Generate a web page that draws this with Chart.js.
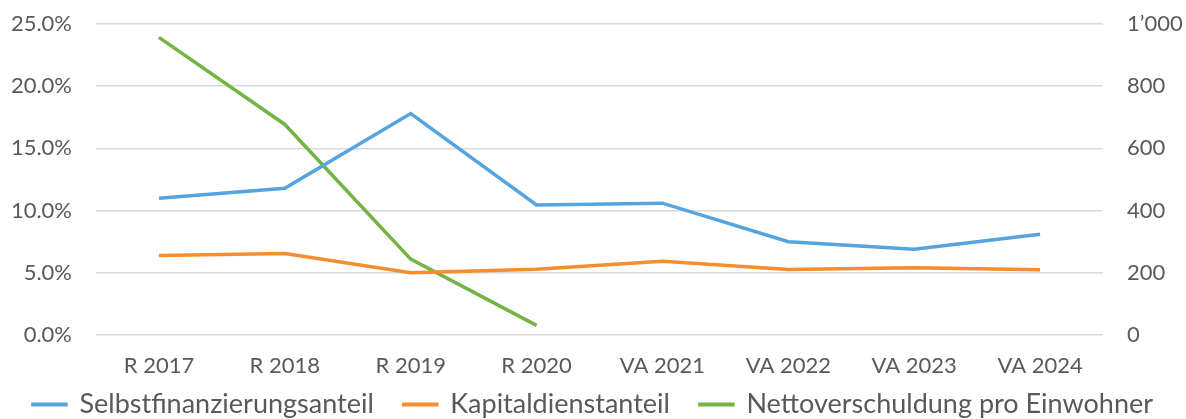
<!DOCTYPE html>
<html>
<head>
<meta charset="utf-8">
<script src="https://cdn.jsdelivr.net/npm/chart.js@4"></script>
<style>
  body { margin: 0; background: #fff; }
  #wrap { width: 1186px; height: 419px; }
</style>
</head>
<body>
<div id="wrap"><canvas id="chart" width="1186" height="419"></canvas></div>
<script>
// Kategorien (Rechnung / Voranschlag)
const labels = ['R 2017', 'R 2018', 'R 2019', 'R 2020', 'VA 2021', 'VA 2022', 'VA 2023', 'VA 2024'];

// Anteile in Prozent (linke Achse)
const selbstfinanzierung = [11.0, 11.8, 17.8, 10.45, 10.6, 7.5, 6.9, 8.1];
const kapitaldienst = [6.4, 6.55, 5.0, 5.28, 5.92, 5.27, 5.41, 5.25];

// Nettoverschuldung pro Einwohner (rechte Achse), nur Rechnungsjahre
const nettoverschuldung = [957, 677, 244, 31, null, null, null, null];

const fontName = 'Lato, "Open Sans", sans-serif';
const textColor = '#595959';
const gridColor = '#d9d9d9';

// Tausendertrennzeichen wie im Original: 1’000
function formatCHF(v) {
    return String(v).replace(/\B(?=(\d{3})+(?!\d))/g, '’');
}

// feste Breite für die y-Achsen, ohne Zusatzabstand oben/unten
function yAchseFix(breite) {
    return function (scale) {
        scale.width = breite;
        scale.paddingTop = 0;
        scale.paddingBottom = 0;
    };
}

// Legende: flacher machen und etwas nach oben schieben,
// damit der Abstand zwischen den Einträgen gross bleiben kann
const legendeAnpassen = {
    id: 'legendeAnpassen',
    beforeUpdate(chart) {
        const legend = chart.legend;
        if (!legend || legend._angepasst) return;
        const originalFit = legend.fit;
        legend.fit = function () {
            originalFit.call(this);
            this.height = 38;
        };
        legend._angepasst = true;
    },
    afterLayout(chart) {
        // nur top verschieben, bottom bleibt (Legende clippt auf ihre Box)
        chart.legend.top -= 20;
    }
};

const ctx = document.getElementById('chart').getContext('2d');

const chart = new Chart(ctx, {
    type: 'line',
    data: {
        labels: labels,
        datasets: [{
            label: 'Selbstfinanzierungsanteil',
            data: selbstfinanzierung,
            borderColor: '#55a3df',
            backgroundColor: '#55a3df',
            borderWidth: 3.5,
            pointRadius: 0,
            tension: 0,
            yAxisID: 'y'
        }, {
            label: 'Kapitaldienstanteil',
            data: kapitaldienst,
            borderColor: '#f68d2e',
            backgroundColor: '#f68d2e',
            borderWidth: 3.5,
            pointRadius: 0,
            tension: 0,
            yAxisID: 'y'
        }, {
            label: 'Nettoverschuldung pro Einwohner',
            data: nettoverschuldung,
            borderColor: '#73b443',
            backgroundColor: '#73b443',
            borderWidth: 3.5,
            pointRadius: 0,
            tension: 0,
            spanGaps: false,
            yAxisID: 'y1'
        }]
    },
    options: {
        responsive: false,
        animation: false,
        layout: { autoPadding: false, padding: { left: 0, right: 0, top: 24, bottom: 0 } },
        plugins: {
            tooltip: { enabled: false },
            legend: {
                position: 'bottom',
                labels: {
                    color: textColor,
                    font: { family: fontName, size: 27 },
                    boxWidth: 33,
                    boxHeight: 0.5,
                    padding: 30
                }
            }
        },
        scales: {
            x: {
                offset: true,
                grid: { display: false, drawTicks: false },
                border: { display: false },
                ticks: {
                    color: textColor,
                    font: { family: fontName, size: 22 },
                    padding: 18,
                    maxRotation: 0
                },
                afterFit: function (scale) { scale.height = 46; }
            },
            y: {
                position: 'left',
                min: 0,
                max: 25,
                ticks: {
                    stepSize: 5,
                    color: textColor,
                    font: { family: fontName, size: 22 },
                    padding: 24,
                    callback: function (v) { return v.toFixed(1) + '%'; }
                },
                grid: { color: gridColor, lineWidth: 1.5, drawTicks: false },
                border: { display: false },
                afterFit: yAchseFix(96)
            },
            y1: {
                position: 'right',
                min: 0,
                max: 1000,
                ticks: {
                    stepSize: 200,
                    color: textColor,
                    font: { family: fontName, size: 22 },
                    padding: 24,
                    callback: function (v) { return formatCHF(v); }
                },
                grid: { display: false, drawTicks: false },
                border: { display: false },
                afterFit: yAchseFix(83)
            }
        }
    },
    plugins: [legendeAnpassen]
});
</script>
</body>
</html>
